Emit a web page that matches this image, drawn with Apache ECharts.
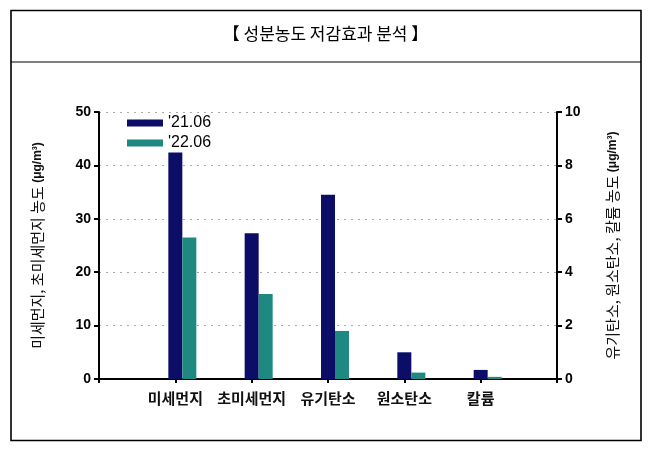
<!DOCTYPE html>
<html>
<head>
<meta charset="utf-8">
<script src="https://cdn.jsdelivr.net/npm/echarts@6/dist/echarts.min.js"></script>
<style>
  html, body { margin: 0; padding: 0; background: #fff; }
  #chart { width: 651px; height: 453px; }
</style>
</head>
<body>
<div id="chart"></div>
<script>
// 항목 / 값
const categories = ['미세먼지', '초미세먼지', '유기탄소', '원소탄소', '칼륨']
const values2106 = [42.4, 27.3, 6.9, 1.0, 0.34]
const values2206 = [26.5, 15.9, 1.8, 0.24, 0.08]
const leftCount = 2 // 앞의 두 항목은 왼쪽 축, 나머지는 오른쪽 축
const leftTicks = [0, 10, 20, 30, 40, 50]
const rightTicks = [0, 2, 4, 6, 8, 10]
const seriesNames = ["'21.06", "'22.06"]

const FONT = '"Liberation Sans", Arial, "Noto Sans CJK KR", sans-serif'
const KFONT = '"Noto Sans CJK KR", sans-serif'
const NAVY = '#0b0d66'
const TEAL = '#1f8880'

// 양 끝 빈 칸 (축 끝에서 간격을 두기 위해)
const axisCats = [''].concat(categories, [''])
const pad = arr => [null].concat(arr, [null])
const pick = (arr, left) => pad(arr.map((v, i) => ((i < leftCount) === left ? v : null)))

const chart = echarts.init(document.getElementById('chart'))

function barSeries(name, data, color, axisIdx) {
    return {
        type: 'bar',
        name: name,
        data: data,
        xAxisIndex: axisIdx,
        yAxisIndex: axisIdx,
        barWidth: 14,
        barGap: '0%',
        itemStyle: {color: color},
        emphasis: {disabled: true}
    }
}

const series = []
;[true, false].forEach((left, k) => {
    // 빈 시리즈: 막대 쌍의 위치를 원본처럼 맞추기 위해
    series.push(barSeries('', pad(categories.map(() => null)), 'transparent', k))
    series.push(barSeries(seriesNames[0], pick(values2106, left), NAVY, k))
    series.push(barSeries(seriesNames[1], pick(values2206, left), TEAL, k))
})

const xBase = {
    type: 'category',
    data: axisCats,
    boundaryGap: false,
    axisLine: {lineStyle: {color: '#000', width: 2}},
    axisTick: {show: true, length: 4, lineStyle: {color: '#000', width: 2}},
    axisLabel: {
        color: '#111', fontFamily: KFONT, fontSize: 15, fontWeight: 'bold',
        margin: 12, interval: 0
    },
    splitLine: {show: false}
}

const yBase = {
    type: 'value',
    min: 0,
    axisLine: {show: true, lineStyle: {color: '#000', width: 2}},
    axisTick: {show: true, inside: false, length: 5, lineStyle: {color: '#000', width: 2}},
    axisLabel: {color: '#000', fontFamily: FONT, fontSize: 14, fontWeight: 'bold', margin: 8},
    nameLocation: 'middle',
    nameRotate: 90,
    nameTextStyle: {
        color: '#111', fontFamily: KFONT, fontSize: 15,
        rich: {u: {fontFamily: FONT, fontSize: 12, fontWeight: 'bold', color: '#111'}}
    }
}

const option = {
    animation: false,
    backgroundColor: '#fff',
    graphic: [
        {type: 'rect', shape: {x: 11, y: 10.5, width: 630, height: 430},
            style: {fill: 'none', stroke: '#000', lineWidth: 1.6}},
        {type: 'line', shape: {x1: 11, y1: 62, x2: 641, y2: 62},
            style: {stroke: '#000', lineWidth: 1.2}},
        {type: 'text', left: 'center', top: 25,
            style: {text: '【 성분농도 저감효과 분석 】', font: '17px "Noto Sans CJK KR", sans-serif', fill: '#000'}}
    ],
    grid: {left: 99, right: 94, top: 112, bottom: 74},
    legend: {
        data: seriesNames,
        orient: 'vertical',
        left: 122,
        top: 110,
        itemWidth: 36,
        itemHeight: 7,
        itemGap: 4,
        icon: 'rect',
        selectedMode: false,
        textStyle: {color: '#000', fontFamily: FONT, fontSize: 16}
    },
    xAxis: [
        xBase,
        Object.assign({}, xBase, {show: false})
    ],
    yAxis: [
        Object.assign({}, yBase, {
            position: 'left',
            max: leftTicks[leftTicks.length - 1],
            interval: leftTicks[1] - leftTicks[0],
            name: '미세먼지, 초미세먼지 농도 {u|(μg/m³)}',
            nameGap: 54,
            splitLine: {show: true, lineStyle: {color: '#aaa', type: [2, 5], width: 1}}
        }),
        Object.assign({}, yBase, {
            position: 'right',
            max: rightTicks[rightTicks.length - 1],
            interval: rightTicks[1] - rightTicks[0],
            name: '유기탄소, 원소탄소, 칼륨 농도 {u|(μg/m³)}',
            nameGap: 48,
            splitLine: {show: false}
        })
    ],
    series: series
}

chart.setOption(option)
</script>
</body>
</html>
